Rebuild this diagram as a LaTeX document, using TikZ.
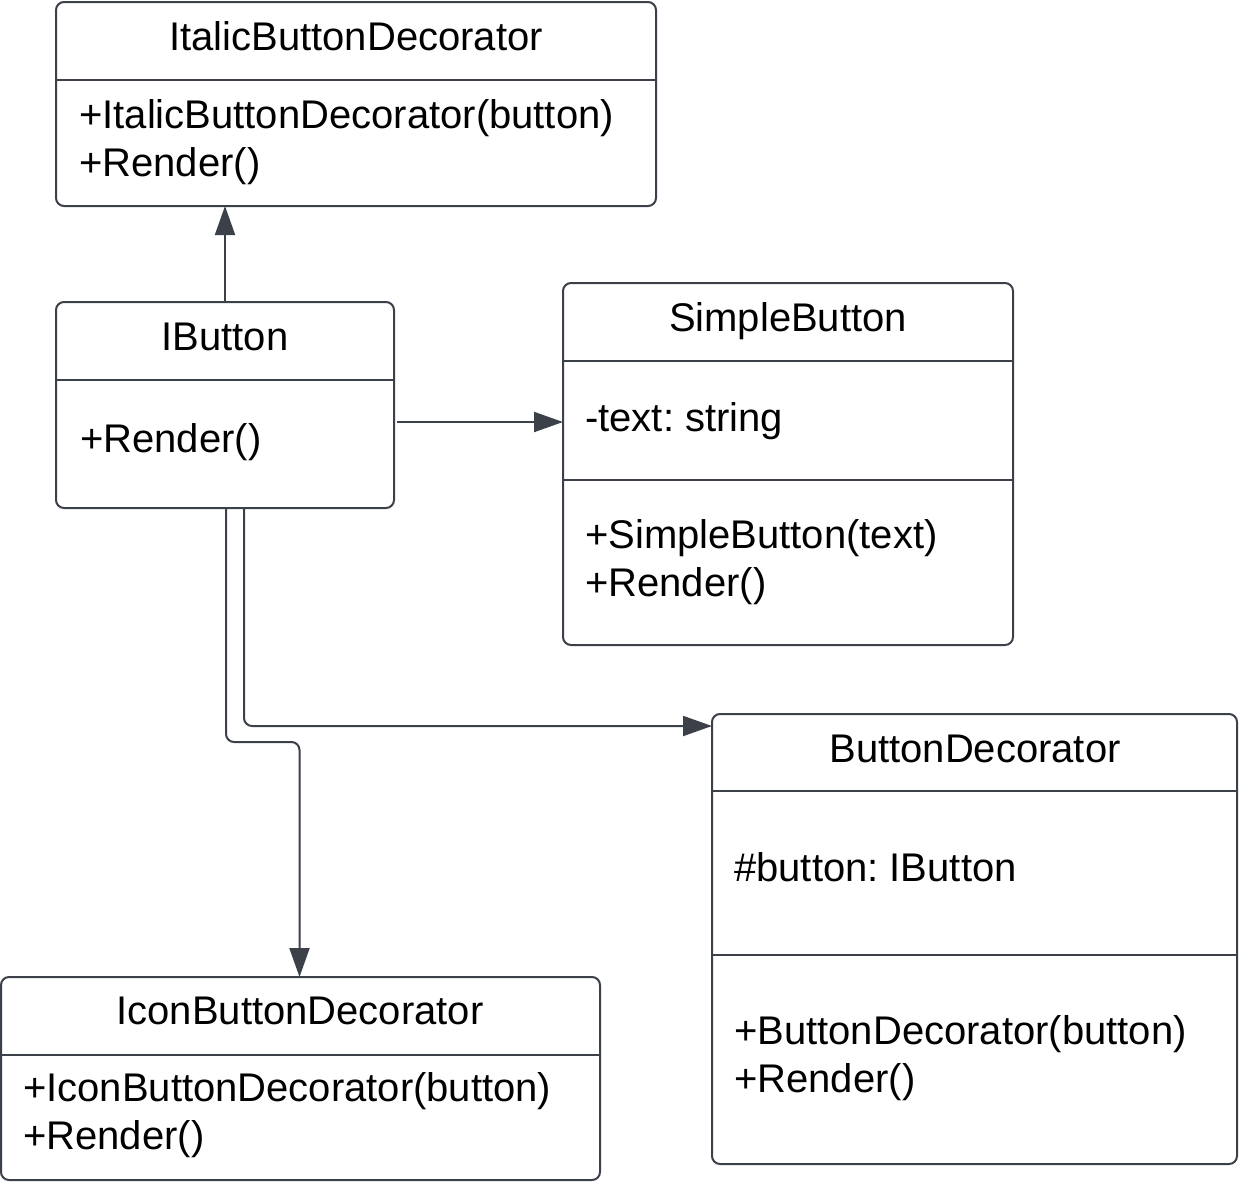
\documentclass[tikz,border=0pt]{standalone}
\usepackage{fontspec}
\setmainfont{Liberation Sans}
\usetikzlibrary{arrows.meta}
\definecolor{lc}{HTML}{3B4049}
\frenchspacing
\begin{document}
\begin{tikzpicture}[x=1pt,y=-1pt,
  umlbox/.style={draw=lc, line width=2pt, rounded corners=8pt, inner sep=0pt, outer sep=0pt, anchor=north west},
  divline/.style={draw=lc, line width=2pt},
  txt/.style={inner sep=0pt, anchor=base west, font=\fontsize{40}{48}\selectfont},
  ttl/.style={inner sep=0pt, anchor=base, font=\fontsize{40}{48}\selectfont},
  arr/.style={draw=lc, line width=2pt, -{Triangle[length=29pt,width=20pt]}, fill=none}
]
\useasboundingbox (0,0) rectangle (1239,1181);

% boxes
\node[umlbox, minimum width=600pt, minimum height=204pt] (ibd) at (56,2) {};
\node[umlbox, minimum width=338pt, minimum height=206pt] (ib) at (56,302) {};
\node[umlbox, minimum width=450pt, minimum height=362pt] (sb) at (563,283) {};
\node[umlbox, minimum width=525pt, minimum height=450pt] (bd) at (712,714) {};
\node[umlbox, minimum width=599pt, minimum height=203pt] (icd) at (1,977) {};

% dividers
\draw[divline] (ibd.west |- 0,80) -- (ibd.east |- 0,80);
\draw[divline] (ib.west |- 0,380) -- (ib.east |- 0,380);
\draw[divline] (sb.west |- 0,361) -- (sb.east |- 0,361);
\draw[divline] (sb.west |- 0,480) -- (sb.east |- 0,480);
\draw[divline] (bd.west |- 0,791) -- (bd.east |- 0,791);
\draw[divline] (bd.west |- 0,955) -- (bd.east |- 0,955);
\draw[divline] (icd.west |- 0,1055) -- (icd.east |- 0,1055);

% texts
\node[ttl] (t1) at (356,50) {ItalicButtonDecorator};
\node[txt] (t1a) at (79,128) {+ItalicButtonDecorator(button)};
\node[txt] (t1b) at (79,176) {+Render()};

\node[ttl] (t2) at (225,350) {IButton};
\node[txt] (t2a) at (80,452) {+Render()};

\node[ttl] (t3) at (788,331) {SimpleButton};
\node[txt] (t3a) at (585,431) {-text: string};
\node[txt] (t3b) at (585,548) {+SimpleButton(text)};
\node[txt] (t3c) at (585,596) {+Render()};

\node[ttl] (t4) at (975,762) {ButtonDecorator};
\node[txt] (t4a) at (734,881) {\#button: IButton};
\node[txt] (t4b) at (734,1044) {+ButtonDecorator(button)};
\node[txt] (t4c) at (734,1092) {+Render()};

\node[ttl] (t5) at (300,1024) {IconButtonDecorator};
\node[txt] (t5a) at (23,1101) {+IconButtonDecorator(button)};
\node[txt] (t5b) at (23,1149) {+Render()};

% connectors
\draw[arr] (ib.north) -- (ib.north |- ibd.south);
\draw[arr] ([xshift=3pt]ib.east |- 0,422) -- (sb.west |- 0,422);
\draw[arr, rounded corners=8pt] ([xshift=19pt]ib.south) -- ([xshift=19pt]ib.south |- 0,726) -- (bd.west |- 0,726);
\draw[arr, rounded corners=8pt] ([xshift=1pt]ib.south) -- ([xshift=1pt]ib.south |- 0,742) -- ([xshift=-1pt]icd.north |- 0,742) -- ([xshift=-1pt]icd.north);
\end{tikzpicture}
\end{document}
